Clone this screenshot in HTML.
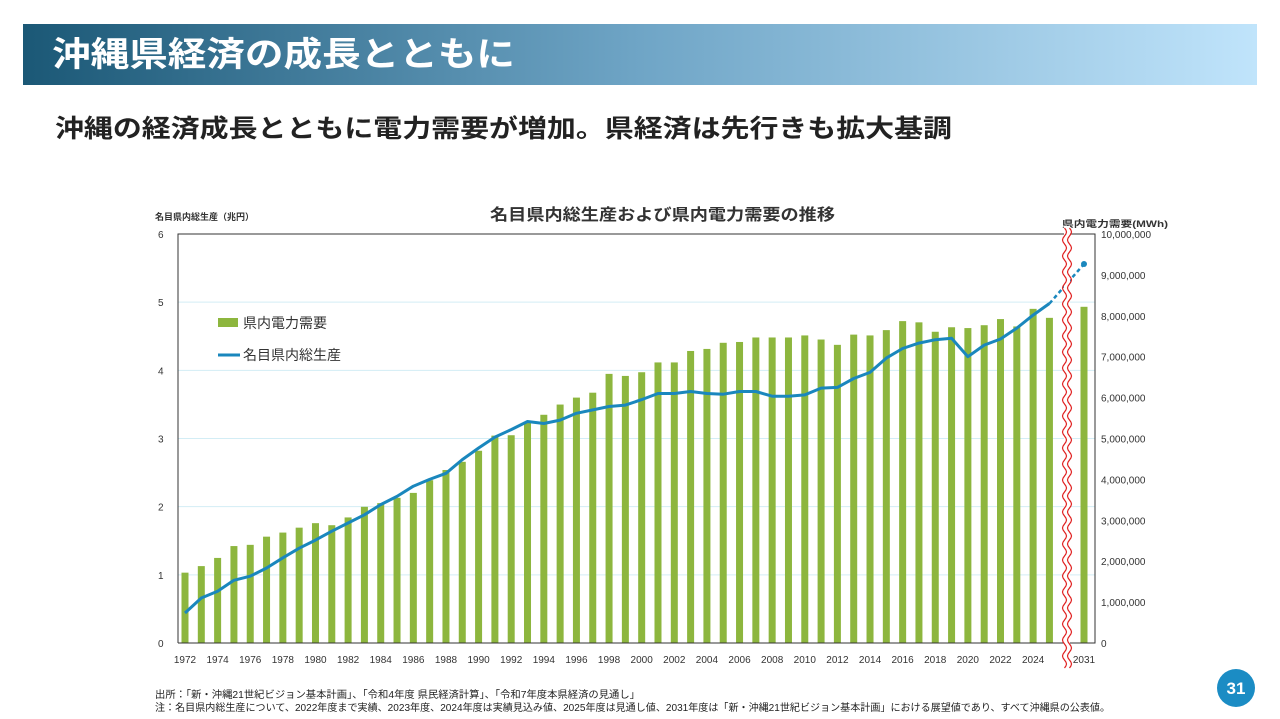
<!DOCTYPE html>
<html><head><meta charset="utf-8"><style>
html,body{margin:0;padding:0;background:#fff;}
svg{display:block;font-family:"Liberation Sans","Noto Sans CJK JP",sans-serif;}
</style></head><body>
<svg id="s" width="1280" height="719" viewBox="0 0 1280 719" xmlns="http://www.w3.org/2000/svg">
<defs><linearGradient id="hg" x1="0" x2="1" y1="0" y2="0"><stop offset="0" stop-color="#1b5876"/><stop offset="0.5" stop-color="#6fa5c6"/><stop offset="1" stop-color="#c0e4fb"/></linearGradient></defs>
<rect x="23" y="24" width="1234" height="61" fill="url(#hg)"/>
<text x="52" y="66" font-size="34" font-weight="bold" fill="#fff" textLength="463" lengthAdjust="spacingAndGlyphs">沖縄県経済の成長とともに</text>
<text x="55" y="137" font-size="25" font-weight="bold" fill="#222" textLength="897" lengthAdjust="spacingAndGlyphs">沖縄の経済成長とともに電力需要が増加。県経済は先行きも拡大基調</text>
<text x="490" y="220" font-size="16" font-weight="bold" fill="#333" textLength="345" lengthAdjust="spacingAndGlyphs">名目県内総生産および県内電力需要の推移</text>
<text x="155" y="220" font-size="9" font-weight="bold" fill="#333">名目県内総生産（兆円）</text>
<text x="1062" y="227" font-size="9" font-weight="bold" fill="#333" textLength="106" lengthAdjust="spacingAndGlyphs">県内電力需要(MWh)</text>
<g id="grid"></g><g id="bars"></g><g id="lines"></g><g id="axes"></g>
<g>
<rect x="218" y="318" width="20" height="9" fill="#8db63e"/>
<text x="243" y="328" font-size="14" fill="#333">県内電力需要</text>
<line x1="218" y1="355" x2="240" y2="355" stroke="#1a87bd" stroke-width="3"/>
<text x="243" y="360" font-size="14" fill="#333">名目県内総生産</text>
</g>
<text x="155" y="698" font-size="10" fill="#222" textLength="485" lengthAdjust="spacingAndGlyphs">出所：「新・沖縄21世紀ビジョン基本計画」、「令和4年度 県民経済計算」、「令和7年度本県経済の見通し」</text>
<text x="155" y="711" font-size="10" fill="#222" textLength="955" lengthAdjust="spacingAndGlyphs">注：名目県内総生産について、2022年度まで実績、2023年度、2024年度は実績見込み値、2025年度は見通し値、2031年度は「新・沖縄21世紀ビジョン基本計画」における展望値であり、すべて沖縄県の公表値。</text>
<circle cx="1236" cy="688" r="19" fill="#1b8cc4"/>
<text x="1236" y="694" font-size="17" font-weight="bold" fill="#fff" text-anchor="middle">31</text>
</svg>
<script>
const years=[];for(let y=1972;y<=2025;y++)years.push(y);years.push(2031);
const demand=[1720,1880,2080,2370,2400,2600,2700,2820,2930,2880,3070,3330,3420,3550,3670,3980,4230,4430,4700,5070,5080,5400,5580,5830,6000,6120,6580,6530,6620,6860,6860,7140,7190,7340,7360,7470,7470,7470,7520,7420,7290,7540,7520,7650,7870,7840,7610,7720,7700,7770,7920,7740,8170,7950,8220];
const gdp=[0.44,0.66,0.76,0.92,0.98,1.10,1.25,1.39,1.51,1.64,1.76,1.88,2.03,2.15,2.30,2.40,2.49,2.69,2.86,3.02,3.13,3.25,3.22,3.27,3.37,3.42,3.47,3.49,3.57,3.66,3.66,3.69,3.66,3.65,3.69,3.69,3.62,3.62,3.64,3.74,3.75,3.88,3.97,4.18,4.32,4.40,4.45,4.47,4.20,4.37,4.46,4.62,4.81,4.98,5.56];
const leftTicks=[0,1,2,3,4,5,6];
const rightTicks=["0","1,000,000","2,000,000","3,000,000","4,000,000","5,000,000","6,000,000","7,000,000","8,000,000","9,000,000","10,000,000"];
const NS="http://www.w3.org/2000/svg";
const X0=178,X1=1095,Y0=643,Y1=234;
function xOf(i){return years[i]===2031?1084:185+(years[i]-1972)*16.31;}
function yL(v){return Y0-v/6*(Y0-Y1);}
function yR(v){return Y0-v/10000*(Y0-Y1);}
function mk(p,tag,at){const e=document.createElementNS(NS,tag);for(const k in at)e.setAttribute(k,at[k]);p.appendChild(e);return e;}
const G=document.getElementById('grid'),B=document.getElementById('bars'),L=document.getElementById('lines'),A=document.getElementById('axes');
leftTicks.forEach(t=>{
 if(t>0&&t<6){const g=mk(G,'line',{x1:X0,x2:X1,y1:yL(t),y2:yL(t),stroke:'#d3edf5','stroke-width':1});
 
 }
 const tx=mk(A,'text',{x:158,y:yL(t)+4,'font-size':10,fill:'#333'});tx.textContent=t;
 
 
});
rightTicks.forEach((t,i)=>{
 const tx=mk(A,'text',{x:1101,y:yR(i*1000)+4,'font-size':10,fill:'#333'});tx.textContent=t;
 
 
});
demand.forEach((v,i)=>{
 const r=mk(B,'rect',{x:xOf(i)-3.5,y:yR(v),width:7,height:Y0-yR(v),fill:'#8db63e'});
 
 
});
years.forEach((y,i)=>{
 if((y%2===0&&y<=2024)||y===2031){const tx=mk(A,'text',{x:xOf(i),y:663,'font-size':10,fill:'#333','text-anchor':'middle'});tx.textContent=y;
 
 }
});
let d='';for(let i=0;i<gdp.length-1;i++)d+=(i?'L':'M')+xOf(i).toFixed(1)+' '+yL(gdp[i]).toFixed(1);
const pl=mk(L,'path',{d:d,fill:'none',stroke:'#1a87bd','stroke-width':3,'stroke-linejoin':'round'});


const n=gdp.length;
const dl=mk(L,'path',{d:'M'+xOf(n-2)+' '+yL(gdp[n-2])+'L'+xOf(n-1)+' '+yL(gdp[n-1]),fill:'none',stroke:'#1a87bd','stroke-width':2.5,'stroke-dasharray':'4 3'});


const pt=mk(L,'circle',{cx:xOf(n-1),cy:yL(gdp[n-1]),r:3,fill:'#1a87bd'});


const ax=mk(A,'path',{d:`M${X0} ${Y0}L${X0} ${Y1}L${X1} ${Y1}L${X1} ${Y0}L${X0} ${Y0}`,fill:'none',stroke:'#333','stroke-width':1});


// axis break (smooth wave)
let w1='',w2='';
for(let y=228,k=0;y<=668;y+=2,k++){const o=2*Math.sin((y-228)/16*2*Math.PI);w1+=(k?'L':'M')+(1064.5+o).toFixed(2)+' '+y;w2+=(k?'L':'M')+(1069.5+o).toFixed(2)+' '+y;}
const bk=mk(A,'g',{});


mk(bk,'rect',{x:1064,y:226,width:6,height:444,fill:'#fff'});
mk(bk,'path',{d:w1,fill:'none',stroke:'#e02020','stroke-width':1.2});
mk(bk,'path',{d:w2,fill:'none',stroke:'#e02020','stroke-width':1.2});
</script>
</body></html>
